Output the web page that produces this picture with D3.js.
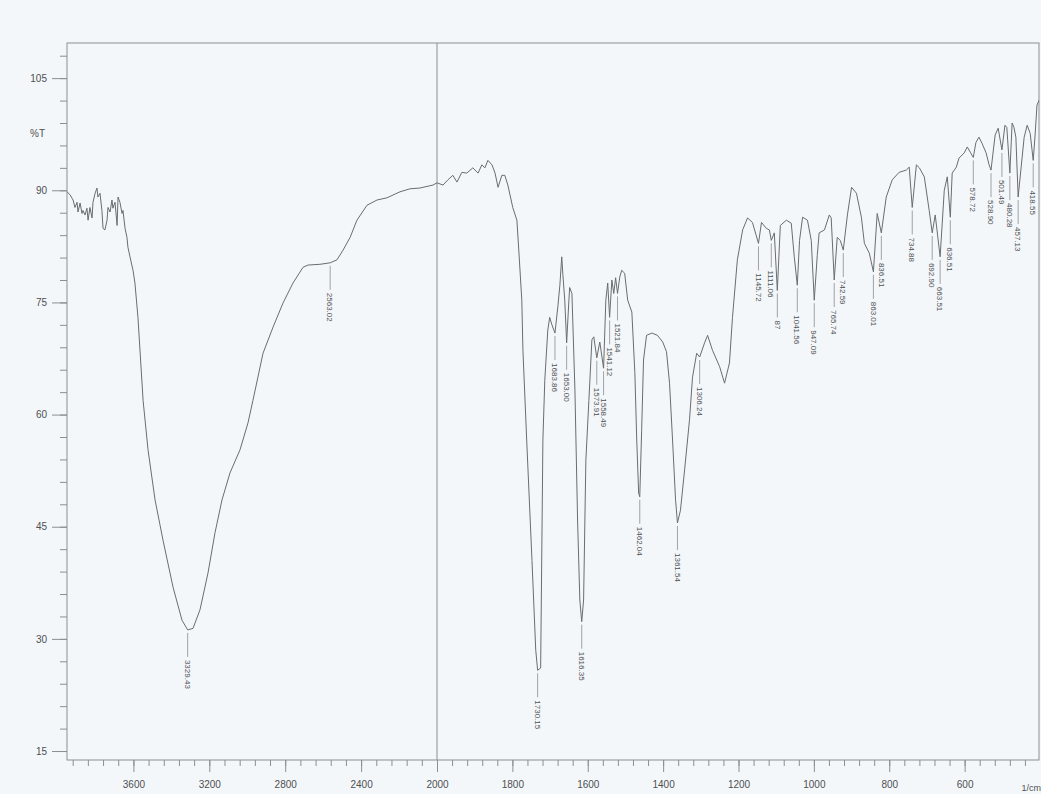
<!DOCTYPE html>
<html>
<head>
<meta charset="utf-8">
<script src="https://cdn.jsdelivr.net/npm/d3@7"></script>
<style>
  body { margin: 0; background: #f4f7f9; }
  svg { display: block; font-family: "Liberation Sans", Arial, sans-serif; }
</style>
</head>
<body>
<div id="chart"></div>
<script>
// spectrum: wavenumber (1/cm) and %T
const wavenumber = [
  3950, 3934, 3918, 3908, 3897, 3892, 3881, 3871, 3866, 3855, 3845, 3839, 3829, 3818, 3813, 3802,
  3792, 3787, 3776, 3766, 3760, 3750, 3739, 3734, 3723, 3713, 3708, 3697, 3686, 3681, 3671, 3660,
  3655, 3644, 3634, 3629, 3618, 3602, 3592, 3576, 3549, 3523, 3486, 3444, 3391, 3344, 3314, 3286,
  3249, 3207, 3170, 3133, 3091, 3038, 2996, 2970, 2917, 2864, 2812, 2759, 2706, 2680, 2617, 2563,
  2527, 2495, 2458, 2422, 2369, 2316, 2263, 2195, 2142, 2090, 2021, 2000, 1984, 1971, 1958, 1947,
  1934, 1921, 1905, 1891, 1881, 1873, 1865, 1854, 1846, 1838, 1828, 1820, 1812, 1799, 1788, 1783,
  1775, 1772, 1762, 1748, 1738, 1733, 1725, 1719, 1714, 1706, 1701, 1695, 1687, 1679, 1674, 1669,
  1666, 1661, 1656, 1650, 1648, 1642, 1634, 1627, 1621, 1616, 1611, 1605, 1597, 1589, 1584, 1576,
  1568, 1558, 1552, 1547, 1542, 1536, 1531, 1526, 1521, 1515, 1510, 1502, 1494, 1483, 1475, 1470,
  1465, 1462, 1457, 1452, 1444, 1430, 1415, 1401, 1391, 1383, 1375, 1367, 1362, 1354, 1343, 1330,
  1322, 1311, 1303, 1290, 1282, 1269, 1250, 1237, 1224, 1216, 1203, 1189, 1176, 1163, 1147, 1139,
  1126, 1118, 1113, 1105, 1097, 1089, 1073, 1060, 1052, 1044, 1038, 1030, 1017, 1007, 999, 991,
  986, 972, 959, 954, 946, 938, 930, 922, 911, 900, 887, 874, 866, 853, 842, 832,
  821, 808, 792, 774, 755, 747, 739, 728, 720, 707, 694, 686, 678, 665, 654, 646,
  638, 633, 622, 615, 601, 593, 585, 577, 570, 562, 554, 543, 535, 530, 519, 511,
  501, 493, 488, 480, 474, 469, 464, 458, 450, 442, 434, 426, 418, 413, 408, 402
];
const transmittance = [
  89.8, 89.4, 88.7, 87.7, 88.4, 87.1, 88.3, 86.9, 87.3, 86.7, 87.6, 86.0, 87.7, 86.3, 88.4, 89.6,
  90.3, 89.1, 89.6, 87.3, 84.9, 84.7, 86.0, 87.7, 87.1, 88.7, 87.6, 88.4, 85.3, 89.1, 88.4, 86.9,
  87.3, 84.9, 83.7, 82.4, 81.1, 79.3, 77.6, 73.0, 61.9, 55.3, 48.6, 43.2, 36.9, 32.5, 31.2, 31.4,
  33.9, 38.8, 44.2, 48.6, 52.2, 55.3, 58.9, 61.9, 68.2, 71.7, 74.9, 77.6, 79.7, 80.0, 80.1, 80.3,
  80.7, 82.0, 83.7, 86.0, 88.0, 88.7, 89.0, 89.8, 90.2, 90.3, 90.7, 91.0, 90.7, 91.4, 92.0, 91.1,
  92.4, 92.3, 93.0, 92.3, 93.4, 93.0, 94.0, 93.4, 92.3, 90.4, 92.0, 92.0, 90.7, 87.7, 86.0, 82.0,
  75.3, 68.6, 56.6, 40.5, 28.5, 25.8, 26.1, 56.6, 64.6, 71.3, 73.0, 72.0, 70.9, 74.6, 77.3, 81.1,
  78.7, 75.3, 69.6, 75.3, 77.0, 76.2, 63.3, 45.9, 35.2, 32.3, 35.2, 53.9, 61.9, 70.0, 70.4, 67.6,
  69.7, 66.2, 75.3, 77.6, 73.0, 78.0, 76.2, 78.3, 76.2, 78.4, 79.3, 78.9, 75.3, 73.7, 65.6, 56.6,
  49.5, 49.0, 57.9, 67.3, 70.6, 70.9, 70.6, 69.7, 68.4, 64.2, 56.6, 48.6, 45.5, 47.2, 52.6, 59.3,
  65.0, 68.2, 67.7, 69.6, 70.6, 68.6, 66.4, 64.2, 66.9, 73.0, 80.7, 84.7, 86.3, 85.7, 82.9, 85.7,
  84.9, 84.7, 83.3, 84.3, 76.6, 85.3, 86.0, 85.6, 81.1, 77.3, 83.3, 86.4, 86.0, 83.3, 75.3, 81.3,
  84.3, 84.7, 86.7, 86.3, 78.0, 83.7, 83.3, 82.0, 86.7, 90.4, 89.6, 86.4, 82.9, 81.6, 79.1, 86.9,
  84.3, 89.1, 91.4, 92.4, 92.7, 93.1, 87.7, 93.4, 93.0, 91.8, 87.3, 84.3, 86.7, 81.1, 90.0, 91.8,
  86.4, 92.3, 93.1, 94.3, 95.0, 95.8, 95.1, 94.4, 96.4, 97.1, 96.3, 95.0, 93.4, 92.7, 97.4, 98.3,
  95.4, 98.7, 98.4, 92.3, 99.0, 98.4, 97.1, 89.1, 93.1, 97.1, 98.7, 97.6, 94.0, 97.4, 101.4, 102.1
];

// peak picks: where the label sits and the text printed on it
const peakWn = [
  3314, 2563, 1733, 1687, 1656, 1616, 1576, 1558, 1542, 1521, 1462, 1362, 1303,
  1147, 1113, 1097, 1044, 999, 946, 922, 842, 821, 739, 686, 665, 638,
  577, 530, 501, 480, 458, 418
];
const peakText = [
  "3329.43", "2563.02", "1730.15", "1683.86", "1653.00", "1616.35", "1573.91", "1558.49",
  "1541.12", "1521.84", "1462.04", "1361.54", "1306.24",
  "1145.72", "1111.06", "87", "1041.56", "947.09", "765.74", "742.59", "863.01", "836.51",
  "734.88", "692.90", "663.51", "636.51",
  "578.72", "528.90", "501.49", "480.28", "457.13", "418.55"
];

const yMajor = [15, 30, 45, 60, 75, 90, 105];
const yMinor = d3.range(15, 109, 3);
const xMajor = [3600, 3200, 2800, 2400, 2000, 1800, 1600, 1400, 1200, 1000, 800, 600];
const xMinor = d3.range(3920, 2000, -80).concat(d3.range(2000, 400, -40));

const width = 1041;
const height = 794;
const plotLeft = 67, plotRight = 1039, plotTop = 43, plotBottom = 760;

const x = d3.scaleLinear().domain([3950, 2000, 400]).range([67, 437, 1040]);
const y = d3.scaleLinear().domain([13.8, 109.7]).range([plotBottom, plotTop]);

const axisColor = "#8c8f92";
const textColor = "#4d5053";

const svg = d3.select("#chart")
  .append("svg")
  .attr("width", width)
  .attr("height", height);

svg.append("rect")
  .attr("width", width)
  .attr("height", height)
  .attr("fill", "#f4f7f9");

svg.append("defs").append("clipPath")
  .attr("id", "plot")
  .append("rect")
  .attr("x", plotLeft)
  .attr("y", plotTop)
  .attr("width", plotRight - plotLeft)
  .attr("height", plotBottom - plotTop);

// frame and the 2000 break line
svg.append("rect")
  .attr("x", plotLeft)
  .attr("y", plotTop)
  .attr("width", plotRight - plotLeft)
  .attr("height", plotBottom - plotTop)
  .attr("fill", "none")
  .attr("stroke", axisColor)
  .attr("stroke-width", 1);

svg.append("line")
  .attr("x1", x(2000)).attr("x2", x(2000))
  .attr("y1", plotTop).attr("y2", plotBottom)
  .attr("stroke", axisColor)
  .attr("stroke-width", 1);

// y axis
const yMinorAxis = svg.append("g")
  .attr("transform", `translate(${plotLeft},0)`)
  .call(d3.axisLeft(y).tickValues(yMinor).tickSize(7).tickFormat(""));

const yAxis = svg.append("g")
  .attr("transform", `translate(${plotLeft},0)`)
  .call(d3.axisLeft(y).tickValues(yMajor).tickSize(15).tickPadding(5).tickFormat(d3.format("d")));

// x axis
const xMinorAxis = svg.append("g")
  .attr("transform", `translate(0,${plotBottom})`)
  .call(d3.axisBottom(x).tickValues(xMinor).tickSize(6).tickFormat(""));

const xAxis = svg.append("g")
  .attr("transform", `translate(0,${plotBottom})`)
  .call(d3.axisBottom(x).tickValues(xMajor).tickSize(12).tickPadding(9).tickFormat(d3.format("d")));

[yMinorAxis, yAxis, xMinorAxis, xAxis].forEach((g) => {
  g.select(".domain").remove();
  g.selectAll("line").attr("stroke", axisColor);
  g.selectAll("text")
    .attr("fill", textColor)
    .style("font-size", "10px")
    .style("font-family", "'Liberation Sans', Arial, sans-serif");
});

svg.append("text")
  .attr("x", 45)
  .attr("y", y(97.6))
  .attr("dy", "0.35em")
  .attr("text-anchor", "end")
  .attr("fill", textColor)
  .style("font-size", "10px")
  .text("%T");

svg.append("text")
  .attr("x", 1041)
  .attr("y", 791)
  .attr("text-anchor", "end")
  .attr("fill", textColor)
  .style("font-size", "9px")
  .text("1/cm");

// spectrum
const points = wavenumber.map((w, i) => [w, transmittance[i]]);

const line = d3.line()
  .x((d) => x(d[0]))
  .y((d) => y(d[1]));

svg.append("path")
  .datum(points)
  .attr("clip-path", "url(#plot)")
  .attr("fill", "none")
  .attr("stroke", "#6a6d70")
  .attr("stroke-width", 1)
  .attr("stroke-linejoin", "round")
  .attr("d", line);

// peak labels hang under each trough
const peaks = peakWn.map((w, i) => {
  const j = d3.minIndex(wavenumber, (v) => Math.abs(v - w));
  return { wn: w, t: transmittance[j], text: peakText[i] };
});

const pk = svg.append("g").selectAll("g")
  .data(peaks)
  .enter()
  .append("g");

pk.append("line")
  .attr("x1", (d) => x(d.wn))
  .attr("x2", (d) => x(d.wn))
  .attr("y1", (d) => y(d.t) + 3)
  .attr("y2", (d) => y(d.t) + 27)
  .attr("stroke", "#8a8d90")
  .attr("stroke-width", 0.8);

pk.append("text")
  .attr("transform", (d) => `translate(${x(d.wn)},${y(d.t) + 30}) rotate(90)`)
  .attr("dy", "0.35em")
  .attr("fill", textColor)
  .style("font-size", "8px")
  .text((d) => d.text);
</script>
</body>
</html>
